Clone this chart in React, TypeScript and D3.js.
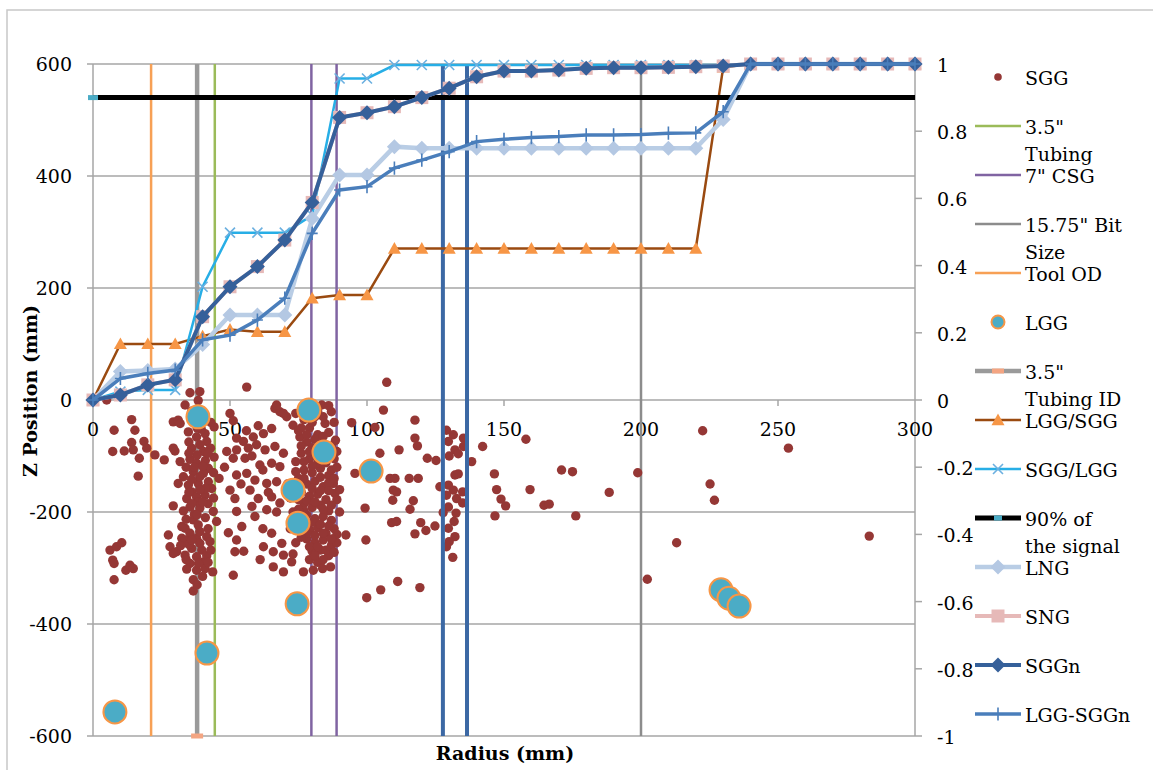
import React from "react";
import * as d3 from "d3";

// radius steps for the normalised curves (right axis)
const radiusSteps = [0, 10, 20, 30, 40, 50, 60, 70, 80, 90, 100, 110, 120, 130, 140, 150, 160, 170, 180, 190, 200, 210, 220, 230, 240, 250, 260, 270, 280, 290, 300];

const lggSgg = [0, 0.167, 0.167, 0.167, 0.19, 0.21, 0.203, 0.203, 0.303, 0.3125, 0.3125, 0.451, 0.451, 0.451, 0.451, 0.451, 0.451, 0.451, 0.451, 0.451, 0.451, 0.451, 0.451, 0.99, 1, 1, 1, 1, 1, 1, 1];
const sggLgg = [0, 0.025, 0.03, 0.03, 0.337, 0.498, 0.498, 0.498, 0.55, 0.957, 0.957, 0.997, 0.997, 0.997, 0.997, 0.997, 0.997, 0.997, 0.997, 0.997, 0.997, 0.997, 0.997, 0.997, 1, 1, 1, 1, 1, 1, 1];
const lng = [0, 0.085, 0.088, 0.092, 0.165, 0.253, 0.253, 0.253, 0.54, 0.67, 0.67, 0.754, 0.749, 0.749, 0.749, 0.749, 0.749, 0.749, 0.749, 0.749, 0.749, 0.749, 0.749, 0.835, 1, 1, 1, 1, 1, 1, 1];
const sng = [0, 0.015, 0.045, 0.06, 0.248, 0.337, 0.397, 0.476, 0.588, 0.841, 0.855, 0.873, 0.9, 0.928, 0.962, 0.979, 0.979, 0.982, 0.987, 0.989, 0.989, 0.99, 0.992, 0.994, 1, 1, 1, 1, 1, 1, 1];
const sggn = [0, 0.015, 0.045, 0.06, 0.248, 0.337, 0.397, 0.476, 0.588, 0.841, 0.855, 0.873, 0.9, 0.928, 0.962, 0.979, 0.979, 0.982, 0.987, 0.989, 0.989, 0.99, 0.992, 0.994, 1, 1, 1, 1, 1, 1, 1];
const lggSggn = [0, 0.064, 0.079, 0.089, 0.179, 0.193, 0.238, 0.303, 0.496, 0.625, 0.635, 0.69, 0.714, 0.739, 0.769, 0.776, 0.781, 0.784, 0.789, 0.789, 0.79, 0.794, 0.795, 0.858, 1, 1, 1, 1, 1, 1, 1];
const signal90 = [0.9, 0.9];
const signal90X = [0, 300];

// vertical geometry lines (left axis, mm)
const tubingOD = [44.45];
const casing = [79.7, 88.9];
const bitSize = [200];
const toolOD = [21.2];
const tubingID = [38];
const otherRadii = [127.7, 136.5];
const zSpan = [-600, 600];

// LGG (large circles) and SGG (dots), [radius, z]
const lggPoints = [[8, -557], [38.3, -30], [41.6, -452], [78.8, -18], [73, -161], [74.8, -220], [74.5, -364], [84.3, -93], [101.5, -127], [229.2, -339], [232.1, -354], [235.8, -368]];

const sggPoints = [
  [5, 0], [7.7, -54], [14.1, -35], [15.3, -54], [7.2, -92], [11.4, -91], [14.1, -76], [14.7, -89], [16.9, -104], [18.6, -74], [19.6, -86], [16.5, -136], [22.6, -98], [26, -107], [29.9, -91], [29.3, -39], [29.3, -86],
  [6.2, -268], [8.6, -262], [10.5, -255], [7.2, -286], [7.7, -292], [12, -304], [13.5, -295], [14.7, -301], [7.7, -321],
  [35.4, 13], [39, 15], [38.4, -1], [33.6, -9], [31.1, -36], [31.8, -42], [34.8, -57], [37.8, -66], [40.9, -60], [41.5, -74], [39, -80], [36, -86], [40.3, -92], [42.9, -86], [44.2, -102], [44.2, -48],
  [31.8, -110], [35.4, -106], [37.8, -113], [42.1, -122], [40.3, -131], [36.6, -128], [33, -137], [31.1, -149], [34.8, -152], [38.4, -149], [42.1, -146], [43.3, -158], [36, -164], [34.2, -176], [37.8, -173], [40.9, -170],
  [29.3, -189], [35.4, -191], [39, -193], [43.9, -199], [45.1, -217], [36.6, -214], [38.4, -223], [33.6, -229], [35.4, -238], [37.8, -247], [41.5, -244], [42.7, -253], [27.5, -241], [28.1, -262], [30.5, -271], [32.4, -247],
  [36, -265], [39.7, -268], [37.8, -280], [40.3, -289], [35.4, -292], [34.2, -302], [37.8, -304], [40.9, -301], [43.7, -307], [36.6, -321], [36.6, -341], [33.6, -277], [29.3, -274], [32.4, -226], [33.6, -250],
  [37, -40], [39.5, -52], [35, -75], [38, -98], [41, -108], [34, -120], [39, -137], [36, -142], [41, -158], [38.5, -182], [42, -185], [33, -198], [37, -204], [41, -210], [35, -258], [39, -256], [41.5, -278], [38.5, -292],
  [36, -20], [40, -30], [43, -40], [38, -50], [35, -95], [42, -95], [37, -120], [40, -118], [44, -130], [39, -160], [35, -165], [44, -175], [36, -185], [40, -182], [38, -205], [42, -230], [34, -213], [39, -235],
  [36, -250], [43, -268], [34, -285], [40, -315], [38, -330], [42, -290], [32, -260],
  [56.1, 23], [50, -24], [51.2, -37], [60.3, -46], [65.2, -51], [52.4, -68], [54.9, -74], [58.5, -66], [62.2, -60], [66.4, -15], [68.2, -21], [70.7, -30], [67, -9], [69.5, -24],
  [48.8, -92], [52.4, -89], [56.7, -86], [59.7, -80], [62.8, -89], [66.4, -83], [69.5, -95], [51.2, -104], [55.5, -104], [60.9, -116], [65.2, -113], [68.2, -119], [52.4, -134], [56.1, -131], [59.1, -143], [63.4, -149], [67, -146],
  [50, -161], [51.8, -176], [57.3, -161], [60.3, -176], [65.2, -173], [68.2, -184], [52.4, -199], [59.1, -208], [63.4, -196], [49.4, -237], [52.4, -250], [51.8, -271], [54.3, -226], [62.2, -262], [65.2, -238], [65.8, -271],
  [68.9, -256], [69.5, -277], [65.8, -298], [69.5, -307], [72.5, -289], [51.2, -313], [76.8, -307],
  [58, -100], [62, -125], [54, -150], [58, -190], [62, -230], [55, -270], [61, -285], [67, -200], [64, -165], [56, -55], [48, -120], [46, -140],
  [74, -24], [73, -45], [75.5, -66], [77, -35], [79, -50], [81, -30], [83.5, -9], [87, -21], [84.7, -42], [86, -58], [88, -40], [82, -62], [78, -75], [80, -85], [83, -78], [86, -90], [88.5, -72], [76, -95], [74, -110], [79, -105],
  [82, -98], [85, -112], [88, -105], [77, -125], [80, -130], [83, -122], [86, -135], [87, -125], [75, -140], [78, -150], [81, -145], [84, -155], [87.7, -149], [76, -165], [79, -172], [82, -168], [85, -178], [88.3, -167],
  [77, -185], [80, -192], [83, -188], [86, -198], [78, -205], [81, -212], [84, -208], [87, -215], [76, -225], [79, -232], [82, -228], [85, -238], [88, -230], [78, -248], [81, -255], [84, -250], [87, -260], [80, -270], [83, -268],
  [86, -278], [79, -285], [82, -290], [80.4, -304], [83.8, -301], [86.7, -298], [89, -255], [90, -200], [90, -160], [89, -120], [72, -175], [73, -200], [71, -150], [72, -230], [74, -255], [73, -275],
  [75, -55], [78, -62], [81, -70], [84, -65], [87, -82], [89, -92], [76, -82], [79, -92], [82, -112], [85, -98], [77, -110], [80, -118], [83, -138], [86, -148], [88, -140], [74, -128], [77, -140], [80, -158], [83, -162],
  [86, -162], [89, -178], [75, -178], [78, -180], [81, -182], [84, -195], [87, -188], [77, -198], [80, -218], [83, -222], [86, -225], [89, -240], [75, -212], [78, -238], [81, -242], [84, -238], [87, -248], [79, -262],
  [82, -262], [85, -268], [88, -272], [81, -278], [84, -285], [76, -245], [75, -195], [74, -150], [76, -50], [80, -40], [84, -30], [86, -10], [82, -20],
  [107.2, 31.6], [106, -18], [94.4, -40.5], [102.9, -49], [117.5, -36], [117.5, -68], [118.4, -82], [111.7, -89], [104.7, -95], [122, -104], [125.2, -108], [95.6, -131], [108.4, -140], [110.2, -140], [115.4, -140], [118.7, -140],
  [109.6, -161], [110.8, -164], [109.4, -179], [116.9, -180], [115.7, -195], [99.3, -193], [109, -219], [110.8, -217], [119.6, -219], [124.8, -225], [121.5, -233], [117.5, -239], [92.3, -241], [99.6, -250],
  [111.2, -324], [105, -339], [119.3, -335], [99.9, -353],
  [129, -54], [131.5, -62], [129.7, -74], [135.2, -68], [135.2, -83], [132.1, -89], [130, -100], [133.3, -96], [138.2, -110], [142.2, -83], [132.1, -134], [133.3, -132], [126.6, -155], [129.7, -152], [131.5, -161], [129, -170],
  [132.7, -176], [134.9, -164], [134.9, -184], [129.7, -191], [127.8, -201], [132.5, -202], [131.8, -217], [129.7, -229], [132.1, -244], [130, -253], [129, -262], [131.3, -281],
  [146.5, -132], [147.3, -160], [148.9, -177], [150.6, -189], [146.7, -207], [158, -70], [159.5, -160], [164.6, -188], [166.5, -186], [171, -125], [175, -128], [188.4, -165], [176.2, -207], [198.8, -130],
  [222.5, -55], [225.2, -150], [226.8, -179], [213, -255], [202.3, -320], [253.8, -86], [283.3, -243],
];

const leftTicks = [-600, -400, -200, 0, 200, 400, 600];
const rightTicks = [-1, -0.8, -0.6, -0.4, -0.2, 0, 0.2, 0.4, 0.6, 0.8, 1];
const xTicks = [0, 50, 100, 150, 200, 250, 300];

const legendLabels = [["SGG"], ["3.5\"", "Tubing"], ["7\" CSG"], ["15.75\" Bit", "Size"], ["Tool OD"], ["LGG"], ["3.5\"", "Tubing ID"], ["LGG/SGG"], ["SGG/LGG"], ["90% of", "the signal"], ["LNG"], ["SNG"], ["SGGn"], ["LGG-SGGn"]];

const FONT = "'DejaVu Serif', serif";
const GRID = "#a6a6a6";

function markerPath(kind, cx, cy, r) {
  switch (kind) {
    case "diamond": return `M${cx},${cy - r}L${cx + r},${cy}L${cx},${cy + r}L${cx - r},${cy}Z`;
    case "square": return `M${cx - r},${cy - r}h${2 * r}v${2 * r}h${-2 * r}Z`;
    case "triangle": return `M${cx},${cy - r}L${cx + r},${cy + r * 0.8}L${cx - r},${cy + r * 0.8}Z`;
    case "x": return `M${cx - r},${cy - r}L${cx + r},${cy + r}M${cx - r},${cy + r}L${cx + r},${cy - r}`;
    case "plus": return `M${cx - r},${cy}L${cx + r},${cy}M${cx},${cy - r * 1.2}L${cx},${cy + r * 1.2}`;
    default: return "";
  }
}

function Marker({ kind, cx, cy, r, color }) {
  const stroked = kind === "x" || kind === "plus";
  return (
    <path d={markerPath(kind, cx, cy, r)} fill={stroked ? "none" : color}
      stroke={stroked ? color : "none"} strokeWidth={stroked ? 1.6 : 0} />
  );
}

export default function App() {
  const x = d3.scaleLinear().domain([0, 300]).range([93, 915]);
  const yL = d3.scaleLinear().domain([-600, 600]).range([736, 64]);
  const yR = d3.scaleLinear().domain([-1, 1]).range([736, 64]);
  const line = d3.line().x((d) => x(d[0])).y((d) => yR(d[1]));

  const curves = [
    { values: lggSgg, color: "#9a4a10", width: 2.5, marker: "triangle", mColor: "#f79646", r: 6.5 },
    { values: sggLgg, color: "#27aee6", width: 2.5, marker: "x", mColor: "#6cb0e0", r: 5 },
    { values: lng, color: "#b9cde5", width: 4.5, marker: "diamond", mColor: "#b4c8e3", r: 7.5 },
    { values: sng, color: "#e6b9b8", width: 4, marker: "square", mColor: "#e6b9b8", r: 6.5 },
    { values: sggn, color: "#35609a", width: 4, marker: "diamond", mColor: "#36609a", r: 7.5 },
    { values: lggSggn, color: "#4a7ebb", width: 3.5, marker: "plus", mColor: "#4a7ebb", r: 5.5 },
  ];

  const verticals = [
    { xs: tubingOD, color: "#9bbb59", width: 2.5 },
    { xs: casing, color: "#8064a2", width: 2.5 },
    { xs: bitSize, color: "#8c8c8c", width: 2.5 },
    { xs: toolOD, color: "#f7a055", width: 2.5 },
    { xs: tubingID, color: "#9a9a9a", width: 4.5 },
  ];
  const otherStyle = { color: "#3c68a4", width: 4 };

  const legendX = 975;
  const legendY0 = 77;
  const legendStep = 49;

  const legendMarker = (i, cy) => {
    const mid = legendX + 23;
    const seg = (color, w) => <line x1={legendX} x2={legendX + 46} y1={cy} y2={cy} stroke={color} strokeWidth={w} />;
    switch (i) {
      case 0: return <circle cx={mid} cy={cy} r={3.8} fill="#953735" />;
      case 1: return seg("#9bbb59", 2.5);
      case 2: return seg("#8064a2", 2.5);
      case 3: return seg("#8c8c8c", 2.5);
      case 4: return seg("#f7a055", 2.5);
      case 5: return <circle cx={mid} cy={cy} r={6.5} fill="#4bacc6" stroke="#f79646" strokeWidth={2} />;
      case 6: return <g>{seg("#9a9a9a", 4.5)}<rect x={mid - 6} y={cy - 2.5} width={12} height={5} fill="#f4a582" /></g>;
      case 9: return <g>{seg("#000", 5)}<rect x={mid - 4} y={cy - 2.5} width={8} height={5} fill="#4bacc6" /></g>;
      default: {
        const c = curves[i === 7 ? 0 : i === 8 ? 1 : i - 8];
        return <g>{seg(c.color, c.width)}<Marker kind={c.marker} cx={mid} cy={cy} r={c.r} color={c.mColor} /></g>;
      }
    }
  };

  return (
    <svg width={1153} height={770} style={{ position: "absolute", left: 0, top: 0, background: "#fff" }} fontFamily={FONT}>
      <rect x={7} y={10} width={1160} height={780} fill="#fff" stroke="#c8c8c8" strokeWidth={1.5} />

      {/* grid and axes */}
      {leftTicks.map((t) => (
        <line key={"g" + t} x1={x(0)} x2={x(300)} y1={yL(t)} y2={yL(t)} stroke={GRID} strokeWidth={1.5} />
      ))}
      <line x1={x(0)} x2={x(0)} y1={yL(-600)} y2={yL(600)} stroke={GRID} strokeWidth={1.5} />
      <line x1={x(300)} x2={x(300)} y1={yL(-600)} y2={yL(600)} stroke={GRID} strokeWidth={1.5} />
      {leftTicks.map((t) => (
        <g key={"l" + t}>
          <line x1={x(0) - 6} x2={x(0)} y1={yL(t)} y2={yL(t)} stroke={GRID} strokeWidth={1.5} />
          <text x={72} y={yL(t)} textAnchor="end" dominantBaseline="central" fontSize={19}>{t}</text>
        </g>
      ))}
      {rightTicks.map((t) => (
        <g key={"r" + t}>
          <line x1={x(300)} x2={x(300) + 7} y1={yR(t)} y2={yR(t)} stroke={GRID} strokeWidth={1.5} />
          <text x={937} y={yR(t) + 1} dominantBaseline="central" fontSize={19}>{String(+t.toFixed(1))}</text>
        </g>
      ))}
      {xTicks.map((t) => (
        <g key={"x" + t}>
          {t > 0 && t < 300 && <line x1={x(t)} x2={x(t)} y1={yL(0)} y2={yL(0) + 6} stroke={GRID} strokeWidth={1.5} />}
          <text x={x(t)} y={yL(0) + 29} textAnchor="middle" dominantBaseline="central" fontSize={19}>{t}</text>
        </g>
      ))}

      {/* geometry lines */}
      {verticals.map((v, i) => v.xs.map((r) => (
        <line key={"v" + i + r} x1={x(r)} x2={x(r)} y1={yL(zSpan[0])} y2={yL(zSpan[1])} stroke={v.color} strokeWidth={v.width} />
      )))}
      <rect x={x(tubingID[0]) - 6} y={yL(zSpan[0]) - 2.5} width={12} height={5} fill="#f4a582" />

      {/* SGG scatter */}
      {sggPoints.map((p, i) => (
        <circle key={"s" + i} cx={x(p[0])} cy={yL(p[1])} r={4.7} fill="#953735" />
      ))}

      {otherRadii.map((r) => (
        <line key={"o" + r} x1={x(r)} x2={x(r)} y1={yL(zSpan[0])} y2={yL(zSpan[1])} stroke={otherStyle.color} strokeWidth={otherStyle.width} />
      ))}

      {/* LGG */}
      {lggPoints.map((p, i) => (
        <circle key={"c" + i} cx={x(p[0])} cy={yL(p[1])} r={11.5} fill="#4bacc6" stroke="#f79646" strokeWidth={2} />
      ))}

      {/* normalised curves */}
      {curves.slice(0, 2).map((c, i) => (
        <g key={"k" + i}>
          <path d={line(radiusSteps.map((r, j) => [r, c.values[j]]))} fill="none" stroke={c.color} strokeWidth={c.width} />
          {radiusSteps.map((r, j) => <Marker key={j} kind={c.marker} cx={x(r)} cy={yR(c.values[j])} r={c.r} color={c.mColor} />)}
        </g>
      ))}
      <path d={line(signal90X.map((r, j) => [r, signal90[j]]))} fill="none" stroke="#000" strokeWidth={5} />
      <rect x={x(signal90X[0]) - 5} y={yR(signal90[0]) - 2.5} width={10} height={5} fill="#4bacc6" />
      {curves.slice(2).map((c, i) => (
        <g key={"m" + i}>
          <path d={line(radiusSteps.map((r, j) => [r, c.values[j]]))} fill="none" stroke={c.color} strokeWidth={c.width} />
          {radiusSteps.map((r, j) => <Marker key={j} kind={c.marker} cx={x(r)} cy={yR(c.values[j])} r={c.r} color={c.mColor} />)}
        </g>
      ))}

      {/* axis titles */}
      <text transform="translate(30,391) rotate(-90)" textAnchor="middle" dominantBaseline="central" fontSize={19} fontWeight="bold">Z Position (mm)</text>
      <text x={505} y={753} textAnchor="middle" dominantBaseline="central" fontSize={19} fontWeight="bold">Radius (mm)</text>

      {/* legend */}
      {legendLabels.map((lines, i) => {
        const cy = legendY0 + i * legendStep;
        return (
          <g key={"lg" + i}>
            {legendMarker(i, cy)}
            {lines.map((s, k) => (
              <text key={k} x={1025} y={cy + 1 + k * 27} dominantBaseline="central" fontSize={19}>{s}</text>
            ))}
          </g>
        );
      })}
    </svg>
  );
}
